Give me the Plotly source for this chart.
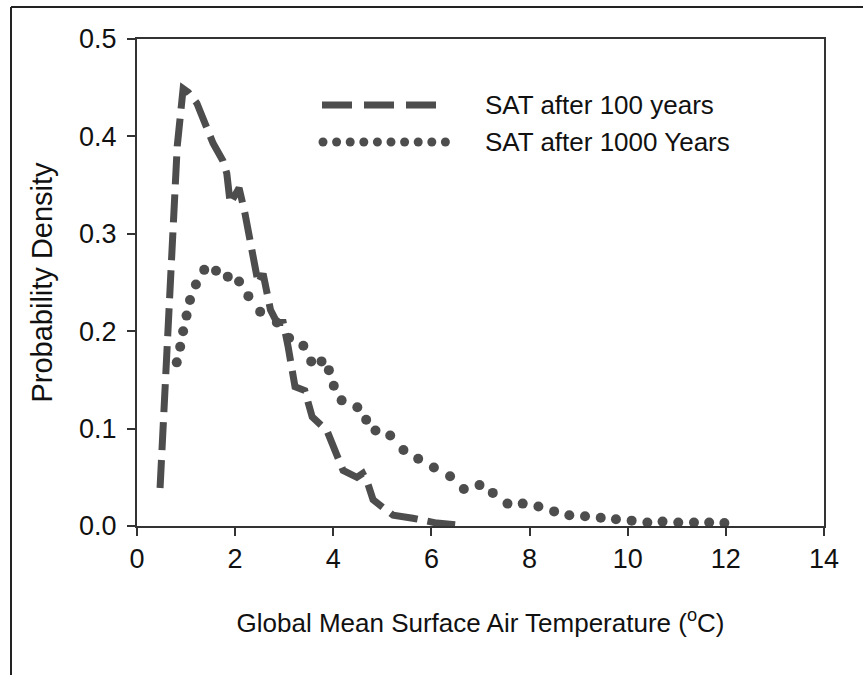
import plotly.graph_objects as go

# SAT after 100 years (dashed)
x100 = [0.47, 0.62, 0.72, 0.82, 0.94, 1.05, 1.22, 1.43, 1.55, 1.75, 1.83, 1.90, 2.08, 2.20,
        2.36, 2.47, 2.57, 2.65, 2.72, 2.85, 2.98, 3.08, 3.15, 3.22, 3.42, 3.57, 3.87, 4.07,
        4.20, 4.48, 4.60, 4.70, 4.81, 5.01, 5.22, 5.62, 5.83, 6.11, 6.52]
y100 = [0.039, 0.18, 0.30, 0.39, 0.449, 0.445, 0.434, 0.406, 0.393, 0.375, 0.362, 0.331, 0.347, 0.321,
        0.280, 0.249, 0.259, 0.240, 0.222, 0.209, 0.209, 0.184, 0.165, 0.143, 0.139, 0.112, 0.098, 0.075,
        0.057, 0.050, 0.054, 0.044, 0.027, 0.019, 0.011, 0.008, 0.006, 0.003, 0.001]

# SAT after 1000 years (dotted)
x1000 = [0.81, 0.88, 0.94, 1.01, 1.08, 1.20, 1.37, 1.61, 1.85, 2.08, 2.27, 2.51, 2.85, 3.10,
         3.39, 3.55, 3.76, 3.91, 4.01, 4.17, 4.49, 4.67, 4.86, 5.16, 5.43, 5.73, 6.05, 6.38,
         6.66, 6.98, 7.25, 7.55, 7.86, 8.18, 8.50, 8.81, 9.13, 9.45, 9.76, 10.08, 10.40, 10.71,
         11.03, 11.35, 11.66, 11.97]
y1000 = [0.168, 0.184, 0.200, 0.216, 0.232, 0.248, 0.263, 0.262, 0.256, 0.251, 0.236, 0.220, 0.209, 0.193,
         0.185, 0.169, 0.169, 0.160, 0.144, 0.129, 0.122, 0.109, 0.098, 0.093, 0.078, 0.069, 0.060, 0.051,
         0.038, 0.042, 0.034, 0.023, 0.023, 0.020, 0.015, 0.011, 0.010, 0.0085, 0.007, 0.0055, 0.0035, 0.0045,
         0.0035, 0.0035, 0.0035, 0.003]

x_ticks = [0, 2, 4, 6, 8, 10, 12, 14]
y_ticks = [0.0, 0.1, 0.2, 0.3, 0.4, 0.5]
y_tick_labels = ["0.0", "0.1", "0.2", "0.3", "0.4", "0.5"]

names = ["SAT after 100 years", "SAT after 1000 Years"]

INK = "#4d4d4d"
TXT = "#111111"
FONT = "Liberation Sans, Arial, sans-serif"

fig = go.Figure()
fig.add_trace(go.Scatter(x=x100, y=y100, mode="lines", name=names[0], showlegend=False,
                         line=dict(color=INK, width=7, dash="28px,10px")))
fig.add_trace(go.Scatter(x=x1000, y=y1000, mode="markers", name=names[1], showlegend=False,
                         marker=dict(color=INK, size=10, line=dict(width=0))))

W, H = 863, 675
L, R, T, B = 137, 39, 39, 149
pw, ph = W - L - R, H - T - B


def px2paper(xp, yp):
    return (xp - L) / pw, (H - B - yp) / ph


shapes = []
# outer frame (top and left edges)
fx0, fy0 = px2paper(11, 7)
fx1, _ = px2paper(863, 7)
_, fyb = px2paper(11, 675)
shapes.append(dict(type="line", xref="paper", yref="paper", x0=fx0, y0=fy0, x1=fx1, y1=fy0,
                   line=dict(color="#222222", width=2)))
shapes.append(dict(type="line", xref="paper", yref="paper", x0=fx0, y0=fy0, x1=fx0, y1=fyb,
                   line=dict(color="#222222", width=2)))

# legend: dashed sample
lx0, ly0 = px2paper(322, 105)
lx1, _ = px2paper(437, 105)
shapes.append(dict(type="line", xref="paper", yref="paper", x0=lx0, y0=ly0, x1=lx1, y1=ly0,
                   line=dict(color=INK, width=7, dash="30px,12px")))
# legend: dotted sample
for i in range(10):
    cx, cy = px2paper(323 + i * 13.6, 142)
    shapes.append(dict(type="circle", xref="paper", yref="paper", xsizemode="pixel", ysizemode="pixel",
                       xanchor=cx, yanchor=cy, x0=-4.5, x1=4.5, y0=-4.5, y1=4.5,
                       fillcolor=INK, line=dict(width=0)))

tx, ty1 = px2paper(483, 105)
_, ty2 = px2paper(483, 142)
annotations = [
    dict(xref="paper", yref="paper", x=tx, y=ty1, text=names[0], showarrow=False,
         xanchor="left", yanchor="middle", font=dict(size=26, color=TXT, family=FONT)),
    dict(xref="paper", yref="paper", x=tx, y=ty2, text=names[1], showarrow=False,
         xanchor="left", yanchor="middle", font=dict(size=26, color=TXT, family=FONT)),
]

fig.update_layout(
    width=W, height=H,
    margin=dict(l=L, r=R, t=T, b=B, pad=0),
    paper_bgcolor="white", plot_bgcolor="white",
    font=dict(family=FONT, size=27, color=TXT),
    shapes=shapes, annotations=annotations,
    showlegend=False,
)
fig.update_xaxes(range=[0, 14], tickvals=x_ticks, ticks="outside", ticklen=8, tickwidth=2,
                 tickcolor="#333333", showline=True, linecolor="#333333", linewidth=2, mirror=True,
                 showgrid=False, zeroline=False, automargin=False, tickfont=dict(size=27),
                 title=dict(text="Global Mean Surface Air Temperature (<sup>o</sup>C)",
                            font=dict(size=26, color=TXT), standoff=40))
fig.update_yaxes(range=[0, 0.5], tickvals=y_ticks, ticktext=y_tick_labels, ticks="outside", ticklen=8,
                 tickwidth=2, tickcolor="#333333", showline=True, linecolor="#333333", linewidth=2,
                 mirror=True, showgrid=False, zeroline=False, automargin=False, tickfont=dict(size=27),
                 ticklabelstandoff=5,
                 title=dict(text="Probability Density", font=dict(size=29, color=TXT), standoff=18))

fig.write_html("out.html", config={"displayModeBar": False},
               post_script="document.body.style.margin='0';")
